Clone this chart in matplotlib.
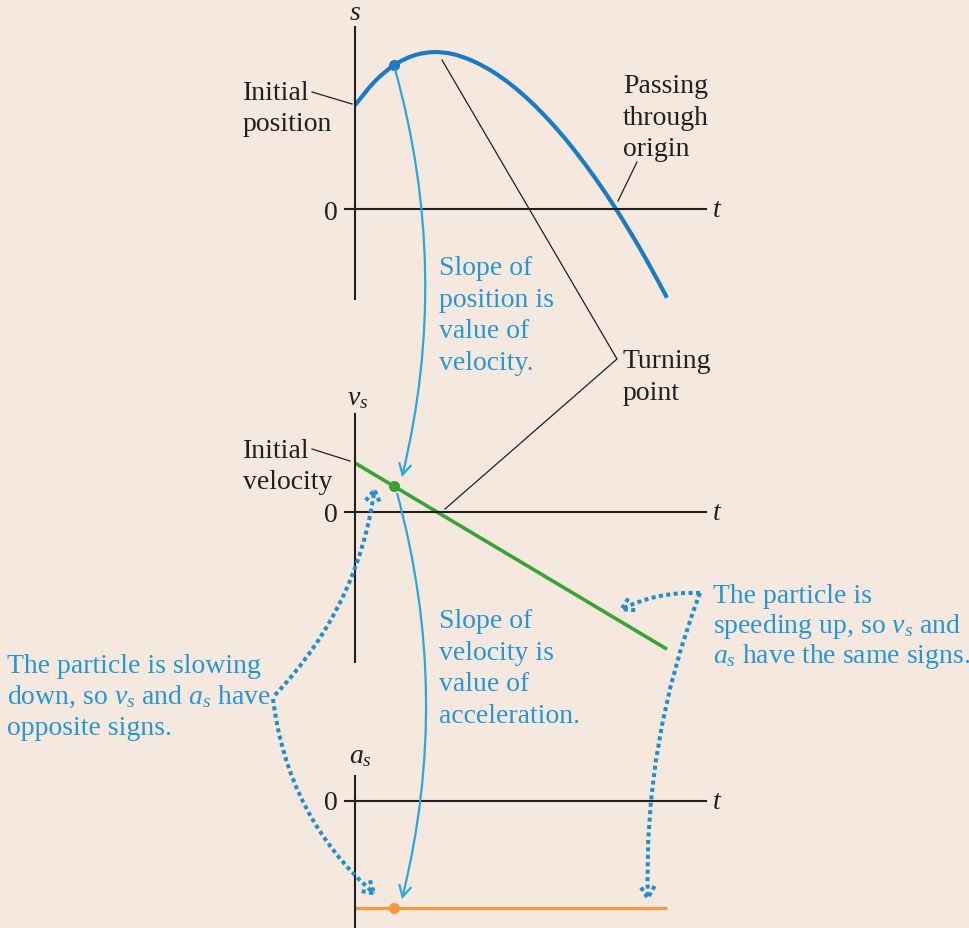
import numpy as np
import matplotlib.pyplot as plt
from matplotlib.patches import FancyArrowPatch, ArrowStyle, PathPatch
from matplotlib.path import Path

plt.rcParams['font.family'] = ['Liberation Serif', 'DejaVu Serif']
plt.rcParams['mathtext.fontset'] = 'custom'
plt.rcParams['mathtext.rm'] = 'Liberation Serif'
plt.rcParams['mathtext.it'] = 'Liberation Serif:italic'

# values (t in s, s in m, v in m/s, a in m/s^2)
t_pos = [0, 0.5, 1, 1.5, 2, 2.5, 3, 3.5, 4, 4.5, 5, 5.5, 6, 6.5, 7, 7.5, 8]
s_pos = [9.88, 12.12, 13.69, 14.61, 14.94, 14.76, 14.13, 13.15, 11.85, 10.24,
         8.35, 6.19, 3.76, 1.09, -1.85, -5.02, -8.45]
t_vel = [0, 8]
v_vel = [5.0, -14.0]
t_acc = [0, 8]
a_acc = [-2.375, -2.375]
dot_idx = 2  # instant marked with a dot on all three graphs

BG = '#f5e9df'
INK = '#231f20'
BLUE_TXT = '#2796d3'
BLUE_ARW = '#2ba6e1'
BLUE_DOT = '#1f8fd0'
S_COL = '#1a7cc2'
V_COL = '#3aa336'
A_COL = '#f59a3c'
FS = 20

W, H = 970, 929
fig = plt.figure(figsize=(W / 100, H / 100), dpi=100)
fig.patch.set_facecolor(BG)


def box(l, t, r, b):
    return [l / W, 1 - b / H, (r - l) / W, (b - t) / H]


def graph(rect, ylim):
    ax = fig.add_axes(rect)
    ax.set_xlim(-10 / 39, 351 / 39)
    ax.set_ylim(*ylim)
    ax.patch.set_visible(False)
    ax.spines['top'].set_visible(False)
    ax.spines['right'].set_visible(False)
    for side in ('left', 'bottom'):
        ax.spines[side].set_position(('data', 0))
        ax.spines[side].set_linewidth(1.5)
        ax.spines[side].set_color(INK)
    ax.set_xticks([])
    ax.set_yticks([])
    return ax


def smooth_path(xs, ys):
    # Catmull-Rom through the read points, drawn as cubic Bezier segments
    p = np.column_stack([xs, ys]).astype(float)
    ext = np.vstack([p[0], p, p[-1]])
    verts = [p[0]]
    codes = [Path.MOVETO]
    for i in range(len(p) - 1):
        p0, p1, p2, p3 = ext[i], ext[i + 1], ext[i + 2], ext[i + 3]
        verts += [p1 + (p2 - p0) / 6, p2 - (p3 - p1) / 6, p2]
        codes += [Path.CURVE4] * 3
    return Path(verts, codes)


# position graph
ax_s = graph(box(345, 28, 706, 300), ((210 - 300) / 10.5, (210 - 28) / 10.5))
ax_s.add_patch(PathPatch(smooth_path(t_pos, s_pos), fill=False, edgecolor=S_COL,
                         lw=3.0, capstyle='butt', clip_on=False))
ax_s.plot(t_pos[dot_idx], s_pos[dot_idx], 'o', color=S_COL, ms=7, clip_on=False)

# velocity graph
ax_v = graph(box(345, 415, 706, 663), ((513 - 663) / 9.8, (513 - 415) / 9.8))
ax_v.plot(t_vel, v_vel, color=V_COL, lw=2.6, clip_on=False, solid_capstyle='butt')
ax_v.plot(t_pos[dot_idx], np.interp(t_pos[dot_idx], t_vel, v_vel), 'o',
          color=V_COL, ms=7, clip_on=False)

# acceleration graph
ax_a = graph(box(345, 777, 706, 935), ((802 - 935) / 45, (802 - 777) / 45))
ax_a.plot(t_acc, a_acc, color=A_COL, lw=2.4, clip_on=False, solid_capstyle='butt')
ax_a.plot(t_pos[dot_idx], a_acc[0], 'o', color=A_COL, ms=7, clip_on=False)

# overlay in pixel units for labels and arrows
ov = fig.add_axes([0, 0, 1, 1])
ov.set_xlim(0, W)
ov.set_ylim(H, 0)
ov.axis('off')
ov.patch.set_visible(False)


def block(x, y0, lines, color=INK, dy=31.5):
    for i, line in enumerate(lines):
        ov.text(x, y0 + i * dy, line, fontsize=FS, color=color, va='baseline', ha='left')


# axis labels
ov.text(355, 20, '$s$', fontsize=FS, ha='center', va='baseline', color=INK)
ov.text(358, 405, '$v_s$', fontsize=FS, ha='center', va='baseline', color=INK)
ov.text(360, 763, '$a_s$', fontsize=FS, ha='center', va='baseline', color=INK)
for yb in (217, 520, 809):
    ov.text(712, yb, '$t$', fontsize=FS, ha='left', va='baseline', color=INK)
for yb in (220, 522, 810):
    ov.text(338, yb, '0', fontsize=FS, ha='right', va='baseline', color=INK)

# black callouts
block(243, 100, ['Initial', 'position'], dy=31)
block(623, 93, ['Passing', 'through', 'origin'], dy=31.5)
block(623, 368, ['Turning', 'point'], dy=32)
block(243, 458, ['Initial', 'velocity'], dy=31)
leaders = [
    ([312, 352], [93, 105]),
    ([637, 618], [163, 202]),
    ([442, 617, 445], [61, 360, 510]),
    ([312, 350], [450, 462]),
]
for xs, ys in leaders:
    ov.plot(xs, ys, color=INK, lw=0.9)

# blue notes
block(439, 275, ['Slope of', 'position is', 'value of', 'velocity.'], BLUE_TXT, dy=31.7)
block(439, 628, ['Slope of', 'velocity is', 'value of', 'acceleration.'], BLUE_TXT, dy=31.7)
block(7, 673, ['The particle is slowing', r'down, so $v_s$ and $a_s$ have',
               'opposite signs.'], BLUE_TXT, dy=31)
block(713, 603, ['The particle is', r'speeding up, so $v_s$ and',
                 r'$a_s$ have the same signs.'], BLUE_TXT, dy=30)


def arrow(p0, p1, rad, color, lw, ls='-', hl=0.55, hw=0.3, ms=15):
    ov.add_patch(FancyArrowPatch(p0, p1, connectionstyle=f'arc3,rad={rad}',
                                 arrowstyle=ArrowStyle('->', head_length=hl, head_width=hw),
                                 mutation_scale=ms, lw=lw,
                                 color=color, linestyle=ls, shrinkA=0, shrinkB=0,
                                 capstyle='butt', joinstyle='miter'))


arrow((395, 70), (402, 478), -0.13, BLUE_ARW, 1.6)
arrow((397, 494), (402, 900), -0.13, BLUE_ARW, 1.6)

dots = (0, (1, 0.85))
for p0, p1, rad in [((275, 696), (375, 487), 0.16),
                    ((273, 700), (377, 897), 0.19),
                    ((700, 594), (618, 612), 0.13),
                    ((700, 594), (648, 903), 0.10)]:
    arrow(p0, p1, rad, BLUE_DOT, 2.9, dots, hl=0.5, hw=0.3, ms=17)

fig.savefig('out.png', dpi=100, facecolor=BG)
